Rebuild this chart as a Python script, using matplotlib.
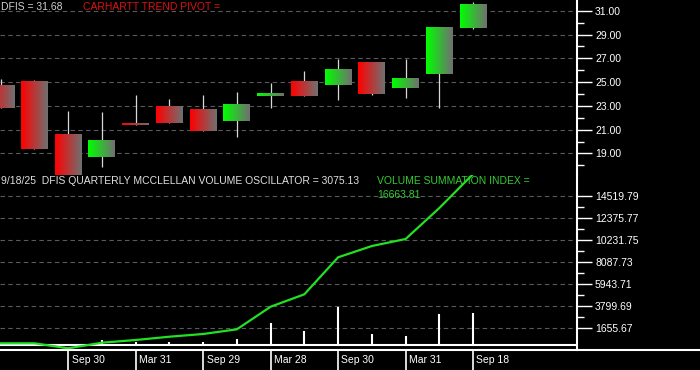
import numpy as np
import matplotlib.pyplot as plt
from matplotlib.lines import Line2D
from matplotlib.transforms import blended_transform_factory

# semiannual candles for DFIS
opens = [24.76, 25.10, 20.64, 18.73, 21.56, 22.93, 22.74, 21.76, 23.86, 25.01, 24.76, 26.63, 24.50, 25.71, 29.57]
highs = [25.26, 25.20, 22.57, 22.49, 23.92, 23.58, 23.92, 24.17, 24.95, 25.96, 26.94, 26.71, 26.94, 29.60, 31.76]
lows = [22.85, 19.40, 17.20, 17.90, 21.42, 21.56, 20.92, 20.41, 22.85, 23.83, 23.52, 23.92, 23.69, 22.85, 29.44]
closes = [22.85, 19.40, 17.22, 20.13, 21.40, 21.56, 20.92, 23.16, 24.06, 23.83, 26.10, 24.00, 25.34, 29.60, 31.52]

# volume summation index (line) and quarterly mcclellan volume oscillator (bars)
vsi = [166, 166, -322, 224, 487, 809, 1072, 1530, 3733, 4941, 8547, 9648, 10331, 13352, 16663.81]
mcvo = [0, 60, 0, 487, 322, 322, 322, 600, 2105, 1364, 3733, 1072, 877, 3050, 3075.13]

date_pos = [2, 4, 6, 8, 10, 12, 14]
date_labels = ["Sep 30", "Mar 31", "Sep 29", "Mar 28", "Sep 30", "Mar 31", "Sep 18"]

price_ticks = [19.0, 21.0, 23.0, 25.0, 27.0, 29.0, 31.0]
price_minor = [18.0, 20.0, 22.0, 24.0, 26.0, 28.0, 30.0]
vol_ticks = [1655.67, 3799.69, 5943.71, 8087.73, 10231.75, 12375.77, 14519.79]
vol_minor = [2727.68, 4871.70, 7015.72, 9159.74, 11303.76, 13447.78]

plt.rcParams["font.family"] = ["Liberation Sans", "DejaVu Sans"]

W, H = 700, 370
fig = plt.figure(figsize=(7, 3.7), dpi=100, facecolor="black")
ax1 = fig.add_axes([0, 1 - 175 / H, 577 / W, 175 / H], facecolor="black")
ax2 = fig.add_axes([0, 20 / H, 577 / W, 175 / H], facecolor="black")

grid_kw = dict(color="#5a5a5a", linestyle=(0, (4, 3)), linewidth=0.8)
gray = np.array([112, 112, 112])
w = 0.8

# price panel
for i in range(len(opens)):
    o, c = opens[i], closes[i]
    ax1.vlines(i, lows[i], highs[i], color="#d8d8d8", linewidth=0.9, zorder=2)
    base = np.array([255, 0, 0]) if c < o else np.array([0, 255, 0])
    t = np.linspace(0, 1, 40)[:, None]
    cols = (base * (1 - t) + gray * t) / 255
    ax1.imshow(cols[None, :, :], extent=(i - w / 2, i + w / 2, min(o, c), max(o, c)),
               aspect="auto", interpolation="bilinear", zorder=3)

ax1.set_xlim(-0.02, 17.08)
ax1.set_ylim(17.19, 31.9)
ax1.yaxis.tick_right()
ax1.set_yticks(price_ticks)
ax1.set_yticklabels(["%.2f" % v for v in price_ticks])
ax1.set_yticks(price_minor, minor=True)
ax1.set_xticks([])
ax1.grid(axis="y", **grid_kw)

# indicator panel
ax2.vlines(range(len(mcvo)), 0, mcvo, color="white", linewidth=1.5, zorder=2)
ax2.plot(range(len(vsi)), vsi, color="#22e022", linewidth=1.6, zorder=3)
ax2.axhline(0, color="white", linewidth=1.5, zorder=2)
ax2.set_xlim(-0.02, 17.08)
ax2.set_ylim(-487, 16570)
ax2.yaxis.tick_right()
ax2.set_yticks(vol_ticks)
ax2.set_yticklabels(["%.2f" % v for v in vol_ticks])
ax2.set_yticks(vol_minor, minor=True)
ax2.grid(axis="y", **grid_kw)

ax2.set_xticks(date_pos)
ax2.set_xticklabels([])
ax2.tick_params(axis="x", length=20, width=1.2, color="white", direction="out")
trans = blended_transform_factory(ax2.transData, ax2.transAxes)
for p, lab in zip(date_pos, date_labels):
    ax2.text(p + 0.1, -10 / 175, lab, transform=trans, ha="left", va="center",
             color="white", fontsize=7.5)

for ax in (ax1, ax2):
    for s in ("top", "left", "bottom"):
        ax.spines[s].set_visible(False)
    ax.spines["right"].set_color("white")
    ax.spines["right"].set_linewidth(1.5)
    ax.tick_params(axis="y", which="major", length=11, width=1, color="white",
                   labelcolor="white", labelsize=7.5, pad=2)
    ax.tick_params(axis="y", which="minor", length=5, width=1, color="white")

fig.add_artist(Line2D([0, 1], [20 / H, 20 / H], color="white", linewidth=1.5))

# header texts
fig.text(1 / W, 1 - 6.5 / H, "DFIS = 31.68", color="#d0d0d0", fontsize=7.5, va="center")
fig.text(83 / W, 1 - 6.5 / H, "CARHARTT TREND PIVOT =", color="#dd1111", fontsize=7.5, va="center")
fig.text(1 / W, 1 - 181.5 / H, "9/18/25  DFIS QUARTERLY MCCLELLAN VOLUME OSCILLATOR = 3075.13",
         color="#e0e0e0", fontsize=7.5, va="center")
fig.text(377 / W, 1 - 181.5 / H, "VOLUME SUMMATION INDEX =", color="#33cc33", fontsize=7.5, va="center")
fig.text(377 / W, 1 - 195 / H, "16663.81", color="#33cc33", fontsize=7.5, va="center")

plt.savefig("out.png", dpi=100, facecolor="black")
